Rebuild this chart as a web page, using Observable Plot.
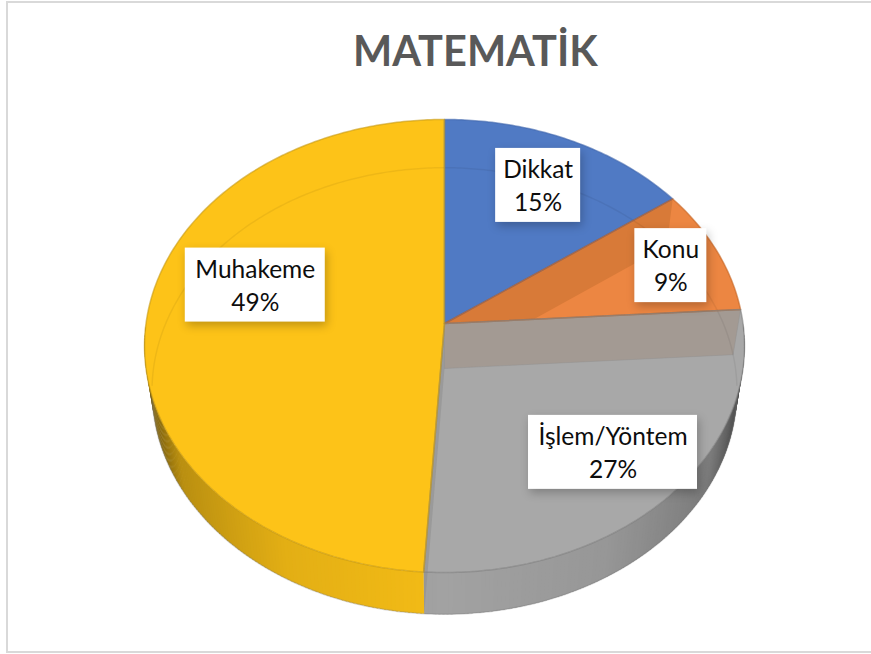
<!DOCTYPE html>
<html lang="tr">
<head>
<meta charset="utf-8">
<script src="https://cdn.jsdelivr.net/npm/d3@7"></script>
<script src="https://cdn.jsdelivr.net/npm/@observablehq/plot@0.6"></script>
<style>
  html, body { margin: 0; background: #fff; }
  #page { position: relative; width: 871px; height: 654px; overflow: hidden; }
  #border { position: absolute; left: 6px; top: 1px; width: 865px; height: 652px; box-sizing: border-box;
            border-left: 2px solid #d9d9d9; border-top: 2px solid #d9d9d9; border-bottom: 2px solid #d9d9d9; }
  h1 { position: absolute; margin: 0; left: 353px; top: 25px; white-space: nowrap; font: 700 41.5px Lato, sans-serif; color: #595959; }
  svg { position: absolute; left: 0; top: 90px; }
</style>
</head>
<body>
<div id="page">
  <div id="border"></div>
  <h1 id="title"></h1>
</div>
<script>
// ---- data ----
const categories = ["Dikkat", "Konu", "İşlem/Yöntem", "Muhakeme"];
const shares = [15, 9, 27, 49];
const chartTitle = "MATEMATİK";

// ---- label placement on the pie: turn (0..1 clockwise from top) and radius ----
const labelTurn = [0.075, 0.1978, 0.3764, 0.792];
const labelRadius = [0.736, 0.822, 0.762, 0.668];
const labelBoxWidth = [85, 72, 169, 140];
const labelBoxHeight = 74;

// ---- styles ----
const topColors = ["#507ac4", "#ec8642", "#a8a8a8", "#fdc318"];
const rimColors = ["#3f66ab", "#c4621f", "#808080", "#c79a14"];
const sideColors = ["#507ac4", "#ec8642", "#a2a2a2", "#f4bc16"];

// ---- perspective of the two pie planes ----
const topPlane = {cx: 444, cy: 323, a: 298.5, b: 224.3, k: 0.0993};
const basePlane = {cx: 444, cy: 368, a: 291, b: 221, k: 0.1007};
function project(plane, turn, r = 1) {
  const t = turn * 2 * Math.PI;
  const X = r * Math.sin(t), Y = r * Math.cos(t);
  const w = 1 + plane.k * Y;
  return {x: plane.cx + plane.a * X / w, y: plane.cy - plane.b * Y / w};
}
function arc(plane, t0, t1, step = 0.002) {
  const n = Math.max(1, Math.ceil((t1 - t0) / step));
  return d3.range(n + 1).map(i => project(plane, t0 + (t1 - t0) * i / n));
}

// ---- slices from the values ----
const total = d3.sum(shares);
let acc = 0;
const slices = categories.map((name, i) => {
  const t0 = acc / total; acc += shares[i]; const t1 = acc / total;
  return {name, value: shares[i], t0, t1, i};
});
const poly = (id, pts, fill, stroke = "none") =>
  [...pts, pts[0]].map(p => ({...p, id, fill, stroke}));

const topFace = s => poly("top" + s.i, [project(topPlane, 0, 0), ...arc(topPlane, s.t0, s.t1)], topColors[s.i]);
const wall = (t, id, fill) => poly(id, [project(topPlane, 0, 0), project(topPlane, t), project(basePlane, t), project(basePlane, 0, 0)], fill);

// outer side wall, in overlapping strips with shading (painted left to right so no seams show)
const shade = d3.scaleLinear().domain([0, 0.5, 0.85, 0.97, 1]).range([1, 0.93, 0.76, 0.46, 0.3]);
const sideStrips = [];
const stepT = 0.002;
const boundary = slices[2].t1;
const strip = (t, tEnd, s) => {
  const tm = t + stepT / 2;
  const c = d3.rgb(sideColors[s.i]);
  const f = shade(Math.abs(Math.sin(tm * 2 * Math.PI)));
  const col = d3.rgb(c.r * f, c.g * f, c.b * f).formatHex();
  sideStrips.push(...poly("side" + s.i + "-" + t, [project(topPlane, t), project(topPlane, tEnd), project(basePlane, tEnd), project(basePlane, t)], col));
};
for (let t = 0.25; t < boundary; t += stepT) strip(t, Math.min(t + 2.5 * stepT, boundary), slices[2]);
for (let t = 0.75 - stepT; t >= boundary; t -= stepT) strip(t, Math.max(t - 1.5 * stepT, boundary), slices[3]);

const konuEnd = slices[1].t1, dikkatEnd = slices[0].t1, islemEnd = slices[2].t1;
const lineMark = (data, opts = {}) => Plot.line(data, {x: "x", y: "y", z: "id", fill: "fill", stroke: "stroke", strokeWidth: 1, curve: "linear", ...opts});
const baseBack = arc(basePlane, -0.262, 0.262).map(p => ({...p, id: "back"}));
const baseFront = arc(basePlane, 0.25, 0.75).map(p => ({...p, id: "baseFront"}));

const labels = slices.map(s => {
  const p = project(topPlane, labelTurn[s.i], labelRadius[s.i]);
  const w = labelBoxWidth[s.i];
  return {...p, x1: p.x - w / 2, x2: p.x + w / 2, y1: p.y - labelBoxHeight / 2, y2: p.y + labelBoxHeight / 2,
          text: `${s.name}\n${s.value}%`};
});

document.getElementById("title").textContent = chartTitle;
const svgTop = 90, svgHeight = 564;
const plot = Plot.plot({
  width: 871, height: svgHeight,
  margin: 0,
  style: {background: "transparent", overflow: "visible"},
  x: {domain: [0, 871], range: [0, 871], axis: null},
  y: {domain: [svgTop, svgTop + svgHeight], range: [0, svgHeight], axis: null},
  marks: [
    lineMark(sideStrips),
    // bottom rim of the outer wall
    Plot.line(baseFront, {x: "x", y: "y", z: "id", stroke: "#777", strokeOpacity: 0.3}),
    // far slices with walls seen through
    lineMark(topFace(slices[0])),
    lineMark(topFace(slices[1])),
    lineMark(wall(dikkatEnd, "wallA", "#d87a38")),
    lineMark(topFace(slices[2])),
    lineMark(wall(konuEnd, "wallB", "#a39a93"), {stroke: "#8f8f8f", strokeOpacity: 0.4}),
    lineMark(wall(islemEnd, "wallC", "#8e8e8e"), {fillOpacity: 0.55}),
    lineMark(topFace(slices[3])),
    // far rim of the base, faintly through the top
    Plot.line(baseBack, {x: "x", y: "y", z: "id", stroke: "#000", strokeOpacity: 0.06}),
    // slice rims
    ...slices.map(s => Plot.line([project(topPlane, 0, 0), ...arc(topPlane, s.t0, s.t1), project(topPlane, 0, 0)],
      {x: "x", y: "y", stroke: rimColors[s.i], strokeOpacity: 0.6})),
    // data labels
    Plot.rect(labels, {x1: "x1", x2: "x2", y1: "y1", y2: "y2", fill: "#fff", imageFilter: "drop-shadow(2px 4px 5px rgba(0,0,0,0.24))"}),
    Plot.text(labels, {x: "x", y: "y", dy: -1.5, text: "text", fontSize: 24.5, lineHeight: 1.35, fontFamily: "Lato, sans-serif", fontWeight: 400, fill: "#0d0d0d", textAnchor: "middle"})
  ]
});
document.getElementById("page").appendChild(plot);
</script>
</body>
</html>
